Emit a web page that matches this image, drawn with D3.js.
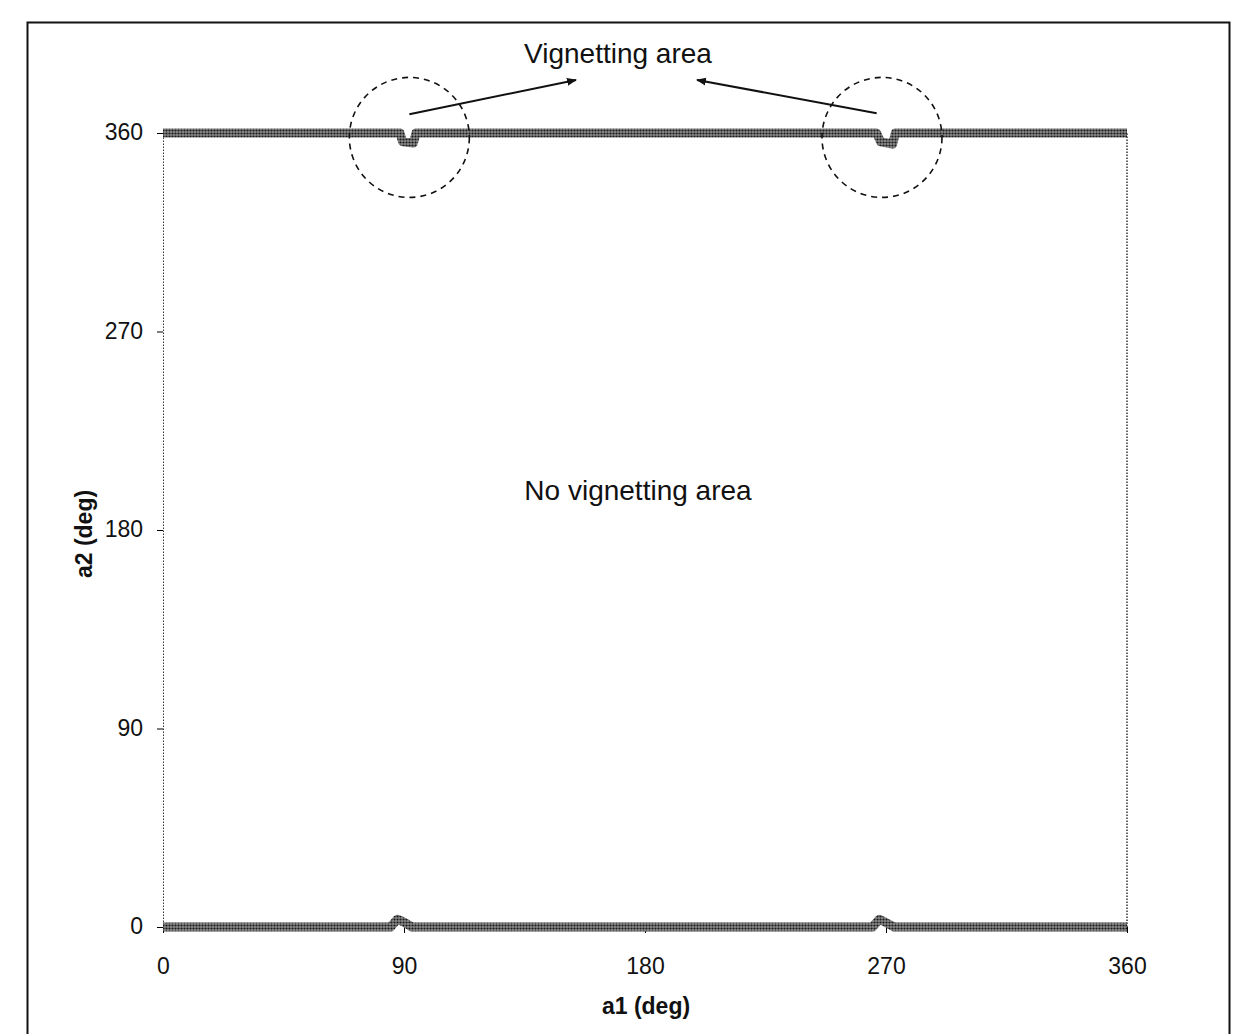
<!DOCTYPE html>
<html lang="en">
  <head>
    <meta charset="UTF-8" />
    <title>vignetting</title>
    <script src="https://d3js.org/d3.v7.min.js"></script>
    <style>
      body { margin: 0; background: #fff; }
      text { font-family: "Liberation Sans", Arial, sans-serif; fill: #111; }
    </style>
  </head>
  <body>
    <svg id="chart" width="1234" height="1034"></svg>
    <script>
      // boundary of the non-vignetted region, [a1, a2] in degrees
      const topEdge = [
        [0, 360], [88.5, 360], [89.5, 356], [93.5, 355.5], [94.5, 360],
        [266.5, 360], [268, 356], [272.5, 355], [273.5, 360], [360, 360]
      ];
      const bottomEdge = [
        [0, 0], [85, 0], [87.5, 3.5], [89.5, 2.5], [93, 0],
        [265, 0], [267.5, 3.5], [270, 2], [273, 0], [360, 0]
      ];
      const rightEdge = [[360, 0], [360, 360]];
      const xTicks = [0, 90, 180, 270, 360];
      const yTicks = [0, 90, 180, 270, 360];
      // dashed circles around the vignetting spots
      const spots = [[92, 358], [268.5, 358]];

      const svg = d3.select("#chart");
      const margin = { top: 133, right: 107, bottom: 107, left: 163 };
      const width = 1234, height = 1034;

      const x = d3.scaleLinear().domain([0, 360]).range([margin.left, width - margin.right]);
      const y = d3.scaleLinear().domain([0, 360]).range([height - margin.bottom, margin.top]);

      // outer frame
      svg.append("rect")
        .attr("x", 27.5).attr("y", 22.5)
        .attr("width", 1202).attr("height", 1040)
        .attr("fill", "none").attr("stroke", "#111").attr("stroke-width", 2);

      const defs = svg.append("defs");
      const pat = defs.append("pattern")
        .attr("id", "dots")
        .attr("patternUnits", "userSpaceOnUse")
        .attr("width", 3).attr("height", 3);
      pat.append("rect").attr("width", 3).attr("height", 3).attr("fill", "#8a8a8a");
      pat.append("circle").attr("cx", 1.5).attr("cy", 1.5).attr("r", 1.1).attr("fill", "#1a1a1a");

      defs.append("marker")
        .attr("id", "arrow")
        .attr("viewBox", "0 0 10 10")
        .attr("refX", 9).attr("refY", 5)
        .attr("markerWidth", 5).attr("markerHeight", 5)
        .attr("orient", "auto")
        .append("path").attr("d", "M0,1 L10,5 L0,9 z").attr("fill", "#111");

      // y axis
      const yAxis = svg.append("g")
        .attr("transform", `translate(${margin.left},0)`)
        .call(d3.axisLeft(y).tickValues(yTicks).tickSize(6).tickPadding(14));
      yAxis.select(".domain").attr("stroke", "#333").attr("stroke-dasharray", "1.5 1.5");
      yAxis.selectAll("text").attr("font-size", 23).attr("dy", "0.3em");

      // x axis
      const xAxis = svg.append("g")
        .attr("transform", `translate(0,${y(0)})`)
        .call(d3.axisBottom(x).tickValues(xTicks).tickSize(6).tickPadding(25));
      xAxis.select(".domain").remove();
      xAxis.selectAll("text").attr("font-size", 23);

      const line = d3.line().x(d => x(d[0])).y(d => y(d[1]));

      svg.append("path")
        .datum(rightEdge)
        .attr("d", line)
        .attr("fill", "none")
        .attr("stroke", "#333")
        .attr("stroke-width", 1.5)
        .attr("stroke-dasharray", "1.5 1.5");

      [topEdge, bottomEdge].forEach((edge) => {
        svg.append("path")
          .datum(edge)
          .attr("d", line)
          .attr("fill", "none")
          .attr("stroke", "url(#dots)")
          .attr("stroke-width", 9)
          .attr("stroke-linejoin", "round");
      });

      // annotation circles
      svg.selectAll("circle.spot")
        .data(spots)
        .join("circle")
        .attr("class", "spot")
        .attr("cx", d => x(d[0]))
        .attr("cy", d => y(d[1]))
        .attr("r", 60)
        .attr("fill", "none")
        .attr("stroke", "#111")
        .attr("stroke-width", 1.6)
        .attr("stroke-dasharray", "6 5");

      // arrows to the label
      const arrows = [
        [x(92), y(368.5), 576, 80],
        [x(266.5), y(369), 697, 80]
      ];
      svg.selectAll("line.arrow")
        .data(arrows)
        .join("line")
        .attr("class", "arrow")
        .attr("x1", d => d[0]).attr("y1", d => d[1])
        .attr("x2", d => d[2]).attr("y2", d => d[3])
        .attr("stroke", "#111")
        .attr("stroke-width", 2)
        .attr("marker-end", "url(#arrow)");

      svg.append("text")
        .attr("x", 618).attr("y", 63)
        .attr("text-anchor", "middle")
        .attr("font-size", 28)
        .text("Vignetting area");

      svg.append("text")
        .attr("x", 638).attr("y", 500)
        .attr("text-anchor", "middle")
        .attr("font-size", 28)
        .text("No vignetting area");

      // axis titles
      svg.append("text")
        .attr("x", 646).attr("y", 1014)
        .attr("text-anchor", "middle")
        .attr("font-size", 23)
        .attr("font-weight", "bold")
        .text("a1 (deg)");

      svg.append("text")
        .attr("transform", `translate(92,534) rotate(-90)`)
        .attr("text-anchor", "middle")
        .attr("font-size", 23)
        .attr("font-weight", "bold")
        .text("a2 (deg)");
    </script>
  </body>
</html>
